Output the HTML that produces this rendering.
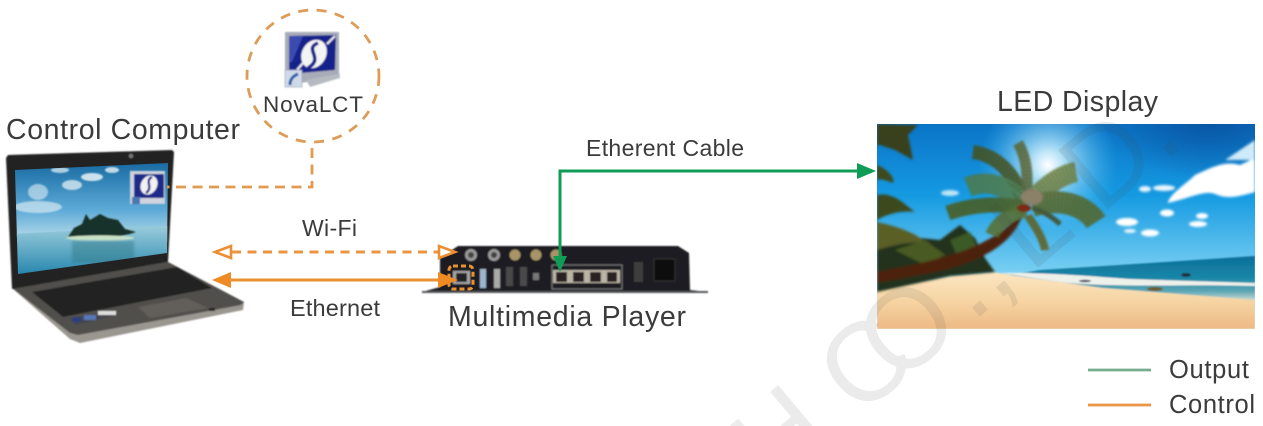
<!DOCTYPE html>
<html><head><meta charset="utf-8"><style>
html,body{margin:0;padding:0;background:#fff;width:1263px;height:426px;overflow:hidden}
svg{display:block;overflow:hidden}
text{font-family:"Liberation Sans",sans-serif;fill:#3a3a3a}
</style></head><body>
<svg width="1263" height="426" viewBox="0 0 1263 426" xmlns="http://www.w3.org/2000/svg">
<defs>
<filter id="b1" x="-5%" y="-5%" width="110%" height="110%"><feGaussianBlur stdDeviation="0.7"/></filter>
<filter id="b2" x="-20%" y="-20%" width="140%" height="140%"><feGaussianBlur stdDeviation="1.3"/></filter>
<filter id="bf" x="-10%" y="-10%" width="120%" height="120%"><feGaussianBlur stdDeviation="1"/></filter>
<filter id="bt" x="-5%" y="-20%" width="110%" height="140%"><feGaussianBlur stdDeviation="0.35"/></filter>
<linearGradient id="sky" x1="0" y1="0" x2="0" y2="1"><stop offset="0" stop-color="#0b74c6"/><stop offset=".35" stop-color="#159ae2"/><stop offset=".7" stop-color="#72ccf1"/><stop offset="1" stop-color="#e2f4fa"/></linearGradient>
<radialGradient id="sun"><stop offset="0" stop-color="#fff"/><stop offset=".18" stop-color="#d8f3fd" stop-opacity=".9"/><stop offset="1" stop-color="#4fc0f2" stop-opacity="0"/></radialGradient>
<radialGradient id="deep"><stop offset="0" stop-color="#084f9c" stop-opacity=".85"/><stop offset="1" stop-color="#084f9c" stop-opacity="0"/></radialGradient>
<linearGradient id="sea" x1="0" y1="0" x2="0" y2="1"><stop offset="0" stop-color="#0b6e98"/><stop offset=".5" stop-color="#1a87a8"/><stop offset=".8" stop-color="#5da6b4"/><stop offset="1" stop-color="#c8d8d2"/></linearGradient>
<linearGradient id="sand" x1="0" y1="0" x2="0" y2="1"><stop offset="0" stop-color="#fce6c2"/><stop offset=".5" stop-color="#f6d5a3"/><stop offset="1" stop-color="#edb985"/></linearGradient>
<linearGradient id="lsky" x1="0" y1="0" x2="0" y2="1"><stop offset="0" stop-color="#14679f"/><stop offset=".6" stop-color="#5ba9d6"/><stop offset="1" stop-color="#bfe0ec"/></linearGradient>
<linearGradient id="lsea" x1="0" y1="0" x2="0" y2="1"><stop offset="0" stop-color="#9accdc"/><stop offset="1" stop-color="#1a7fa8"/></linearGradient>
<clipPath id="beach"><rect x="877" y="124" width="378" height="205"/></clipPath>
<clipPath id="scr"><polygon points="15,170 168,163 167,253 18,274"/></clipPath>
<clipPath id="frame"><rect x="0" y="0" width="1263" height="426"/></clipPath>
<g id="fr" fill="none">
<path d="M973,152 C995,155 1015,172 1022,200" stroke="#46501c" stroke-width="14"/>
<path d="M1018,143 C1028,160 1028,180 1026,200" stroke="#5a6434" stroke-width="11"/>
<path d="M968,187 C990,178 1012,188 1024,206" stroke="#4e7a48" stroke-width="20"/>
<path d="M1076,172 C1060,175 1042,188 1030,204" stroke="#6c7e40" stroke-width="20"/>
<path d="M1096,222 C1085,205 1060,197 1032,206" stroke="#546426" stroke-width="22"/>
<path d="M948,213 C970,205 1000,202 1024,208" stroke="#4a5a1a" stroke-width="15"/>
<path d="M992,235 C998,222 1010,214 1026,210" stroke="#5a6e2c" stroke-width="14"/>
<path d="M1060,224 C1050,215 1040,210 1032,208" stroke="#43491f" stroke-width="5"/>
<path d="M1045,250 C1043,238 1035,226 1028,216" stroke="#625e1e" stroke-width="8"/>
</g>
</defs>

<!-- LED display image -->
<g clip-path="url(#beach)">
<rect x="877" y="124" width="378" height="205" fill="url(#sky)"/>
<ellipse cx="1210" cy="120" rx="110" ry="60" fill="url(#deep)"/>
<circle cx="1048" cy="165" r="70" fill="url(#sun)"/>
<g filter="url(#b1)">
<polygon points="1040,270 1150,263 1255,256 1255,300 1103,288 1010,275" fill="url(#sea)"/>
<path d="M877,290 L950,276 L993,272 L1010,275 L1103,288 L1255,300 L1255,329 L877,329Z" fill="url(#sand)"/>
<path d="M1000,273 C1040,272 1090,276 1130,279 L1255,283 L1255,286 C1180,284 1110,288 1060,282Z" fill="#eef0ea"/>
<ellipse cx="1155" cy="289" rx="8" ry="2" fill="#6e5f33"/><ellipse cx="1085" cy="281" rx="6" ry="1.3" fill="#556"/><ellipse cx="1186" cy="275" rx="5" ry="2" fill="#234"/>
</g>
<g filter="url(#b2)">
<path d="M1168,202 C1172,192 1185,185 1195,175 C1210,168 1225,160 1240,165 L1255,158 L1255,192 C1240,196 1228,200 1215,194 C1205,190 1190,198 1168,203Z" fill="#fff"/>
<path d="M1225,160 L1255,140 L1255,160Z" fill="#cfeaf8"/>
<ellipse cx="1164" cy="188" rx="11" ry="3" fill="#eaf6fc"/><ellipse cx="1145" cy="189" rx="6" ry="3" fill="#e6f4fb"/>
<ellipse cx="1127" cy="222" rx="11" ry="4" fill="#fff"/><ellipse cx="1167" cy="213" rx="7" ry="3.5" fill="#fff"/><ellipse cx="1202" cy="216" rx="6" ry="3" fill="#fff"/><ellipse cx="1198" cy="224" rx="9" ry="3" fill="#fff"/><ellipse cx="1150" cy="233" rx="9" ry="3.5" fill="#fff"/><ellipse cx="1130" cy="231" rx="6" ry="2" fill="#e8f6fc"/><ellipse cx="950" cy="193" rx="9" ry="3" fill="#bfe6f8"/>
<!-- left trees -->
<path d="M877,292 L877,222 L900,230 L920,238 L940,240 L960,225 L975,238 L985,258 L995,272 L950,276Z" fill="#24301a"/>
<path d="M877,195 C895,192 905,205 915,212 C900,210 885,215 877,220Z" fill="#3a4a1c"/>
<path d="M877,222 C895,226 915,232 925,242 C905,242 890,246 877,250Z" fill="#5a5f28"/>
<path d="M895,250 L925,240 L945,255 L925,265Z" fill="#4a5a22"/>
<path d="M950,240 L970,232 L980,255 L960,262Z" fill="#3a5a26"/>
<path d="M877,124 L918,125 L908,135 L913,160 L895,150 L880,145 L877,145Z" fill="#38401a"/>
<path d="M877,165 C890,170 895,180 893,183 C885,180 880,178 877,180Z" fill="#3c4a1e"/>
<path d="M877,272 C930,262 985,250 1012,222 L1022,216 C1012,245 980,262 935,272 L877,283Z" fill="#4e2010"/>
</g>
<!-- fronds -->
<g filter="url(#bf)">
<use href="#fr" opacity=".75"/>
<use href="#fr" stroke-dasharray="2 1.6" opacity=".7"/>
<ellipse cx="1032" cy="197" rx="11" ry="8" fill="#8b8068"/>
<ellipse cx="1024" cy="208" rx="7" ry="4" fill="#7a2a14"/>
</g>
</g>

<!-- watermark -->
<g clip-path="url(#frame)"><g transform="translate(978,318) rotate(-40)" opacity=".1">
<text x="-268" y="0" font-size="112" style="fill:#444">H C</text>
<text x="-105" y="0" font-size="112" style="fill:#444">O</text>
<text x="-8" y="0" font-size="112" style="fill:#444">.,</text>
<text x="69" y="0" font-size="112" style="fill:#444">L</text>
<text x="160" y="0" font-size="112" style="fill:#444">D.</text>
</g></g>

<!-- laptop -->
<g filter="url(#b1)">
<polygon points="12,288 60,282 168,262 244,302 243,310 80,343 70,339" fill="#9a9690"/>
<polygon points="12,288 168,262 244,302 241,305 78,335 70,333" fill="#514f4c"/>
<polygon points="6,158 8,155 172,150 174,152 168,262 12,289" fill="#232222"/>
<polygon points="32,292 177,267 212,288 63,317" fill="#232324"/>
<polygon points="138,307 187,298 208,308 150,318" fill="#625e5a"/>
<polygon points="70,319 115,311 118,315 76,325" fill="#45454f"/>
<rect x="72" y="317" width="9" height="5" fill="#2a3f7a"/><rect x="84" y="315" width="12" height="5" fill="#5677b5"/><rect x="98" y="311" width="18" height="4" fill="#ddd"/>
<circle cx="131" cy="156" r="2.2" fill="#777"/>
<rect x="209" y="308" width="6" height="3" fill="#222"/>
</g>
<g clip-path="url(#scr)">
<rect x="10" y="160" width="160" height="82" fill="url(#lsky)"/>
<polygon points="10,234 170,226 170,280 10,280" fill="url(#lsea)"/>
<g filter="url(#b1)">
<ellipse cx="38" cy="207" rx="24" ry="6" fill="#dfeef5" opacity=".65"/><ellipse cx="38" cy="192" rx="10" ry="8" fill="#dfeef6" opacity=".6"/><ellipse cx="92" cy="177" rx="11" ry="4" fill="#e8f3f7" opacity=".85"/><ellipse cx="72" cy="185" rx="10" ry="5" fill="#d9eaf3" opacity=".8"/><ellipse cx="112" cy="170" rx="7" ry="3" fill="#e8f3f7" opacity=".8"/><ellipse cx="60" cy="170" rx="9" ry="3" fill="#e8f3f7" opacity=".7"/>
<path d="M68,237 L74,228 L82,224 L86,214 L90,220 L100,214 L108,218 L118,220 L125,229 L136,232 C120,238 90,240 68,237Z" fill="#17302a"/>
<ellipse cx="100" cy="238" rx="34" ry="2.6" fill="#c9e3c7"/>
<rect x="72" y="241" width="62" height="22" fill="#2f7486" opacity=".45" filter="url(#b2)"/>
</g>
</g>
<g filter="url(#b1)">
<rect x="130" y="171" width="35" height="33" fill="#cfd3de"/>
<rect x="134" y="174" width="30" height="24" fill="#1d2a8a"/>
<ellipse cx="149" cy="185" rx="8" ry="10" fill="#f2f2f2" transform="rotate(30 149 185)"/>
<path d="M152,177 C144,181 154,187 146,193" stroke="#1d2a8a" stroke-width="2.4" fill="none"/>
<rect x="132" y="197" width="8" height="7" fill="#4a78b0"/>
</g>

<!-- NovaLCT icon -->
<g filter="url(#b1)">
<polygon points="285,32 339,32 339,72 340,77 300,83 285,83" fill="#a8acb8"/>
<polygon points="289,36 336,35 335,70 289,74" fill="#14208c"/>
<polygon points="289,36 303,36 292,62 289,62" fill="#3a4cb0"/>
<ellipse cx="314" cy="54" rx="12" ry="15" fill="#f4f4f4" transform="rotate(30 314 54)"/>
<path d="M318,43 C303,49 325,58 308,68" stroke="#14208c" stroke-width="3.6" fill="none"/>
<path d="M297,70 L303,63 M327,44 L335,36" stroke="#e8e8e8" stroke-width="2.2"/>
<polygon points="306,80 338,74 340,78 310,87" fill="#b6bbc2"/>
<rect x="285" y="70" width="17" height="17" fill="#cfdae8" stroke="#99a" stroke-width=".6"/>
<path d="M290,85 C290,79 293,76 298,74" stroke="#1f5aa8" stroke-width="3" fill="none"/>
</g>

<!-- player -->
<g filter="url(#b1)">
<polygon points="458,246 678,246 689,253 690,290 708,292 422,292 440,287 440,258" fill="#1e1e20"/>
<rect x="422" y="291" width="286" height="2" fill="#55565a"/>
<circle cx="471" cy="255" r="6" fill="#999"/><circle cx="471" cy="255" r="3" fill="#444"/>
<circle cx="494" cy="255" r="6" fill="#999"/><circle cx="494" cy="255" r="3" fill="#444"/>
<circle cx="515" cy="255" r="5.5" fill="#a89468"/><circle cx="536" cy="255" r="5.5" fill="#a89468"/><circle cx="556" cy="255" r="5.5" fill="#a89468"/>
<rect x="480" y="269" width="6" height="19" fill="#9cb5cc"/><rect x="494" y="269" width="6" height="19" fill="#aaa"/>
<rect x="506" y="267" width="7" height="19" fill="#4a4a4a"/><rect x="520" y="267" width="7" height="19" fill="#4a4a4a"/>
<rect x="533" y="273" width="6" height="7" fill="#777"/>
<rect x="552" y="265" width="70" height="24" fill="none" stroke="#777" stroke-width="1"/>
<g fill="#bbb4a6"><rect x="553" y="270" width="17" height="13"/><rect x="570" y="270" width="17" height="13"/><rect x="587" y="270" width="17" height="13"/><rect x="604" y="270" width="16" height="13"/></g>
<g fill="#2a2220"><rect x="556" y="272" width="11" height="10"/><rect x="573" y="272" width="11" height="10"/><rect x="590" y="272" width="11" height="10"/><rect x="607" y="272" width="10" height="10"/></g>
<rect x="634" y="262" width="9" height="20" fill="#3c3c3c"/>
<rect x="654" y="259" width="21" height="22" fill="#111" stroke="#333"/>
<rect x="453" y="271" width="17" height="13" fill="#a5a5a5"/><rect x="456" y="273" width="11" height="9" fill="#222"/>
</g>
<rect x="449" y="266" width="24" height="23" rx="4" fill="none" stroke="#e8912f" stroke-width="3" stroke-dasharray="5 3"/>

<!-- connectors -->
<circle cx="313" cy="76" r="66" fill="none" stroke="#dd9c58" stroke-width="2.8" stroke-dasharray="10 8.5"/>
<path d="M312,148 V187 H167" fill="none" stroke="#e39a4e" stroke-width="2.8" stroke-dasharray="10 6.5"/>
<path d="M232,252 H438" fill="none" stroke="#ec9440" stroke-width="3" stroke-dasharray="9 6.5"/>
<polygon points="215,252 231,246 231,258" fill="#fff" stroke="#ec8f33" stroke-width="2.6"/>
<polygon points="455,252 439,246 439,258" fill="#fff" stroke="#ec8f33" stroke-width="2.6"/>
<path d="M228,280 H440" stroke="#e8912f" stroke-width="3"/>
<polygon points="212,280 231,272 231,288" fill="#ee8b24"/>
<polygon points="458,280 438,272 438,288" fill="#ee8b24"/>
<path d="M858,171 H560 V258" fill="none" stroke="#0f9d55" stroke-width="3"/>
<polygon points="876,171 857,163 857,179" fill="#0f9d55"/>
<polygon points="560,272 553,256 567,256" fill="#0f9d55"/>

<!-- legend -->
<path d="M1088,370 H1151" stroke="#76ad8f" stroke-width="2.8"/>
<path d="M1088,405 H1151" stroke="#ec9445" stroke-width="2.8"/>

<!-- labels -->
<g filter="url(#bt)">
<text x="263" y="112" font-size="22.5" textLength="100">NovaLCT</text>
<text x="6" y="139" font-size="28.5" textLength="234">Control Computer</text>
<text x="302" y="236" font-size="23" textLength="55">Wi-Fi</text>
<text x="290" y="316" font-size="23.5" textLength="90">Ethernet</text>
<text x="586" y="156" font-size="23" textLength="158">Etherent Cable</text>
<text x="448" y="326" font-size="28.5" textLength="238">Multimedia Player</text>
<text x="997" y="111" font-size="28.5" textLength="161">LED Display</text>
<text x="1169" y="378" font-size="25.5" textLength="80">Output</text>
<text x="1169" y="413" font-size="25.5" textLength="86">Control</text>
</g>
</svg>
</body></html>
